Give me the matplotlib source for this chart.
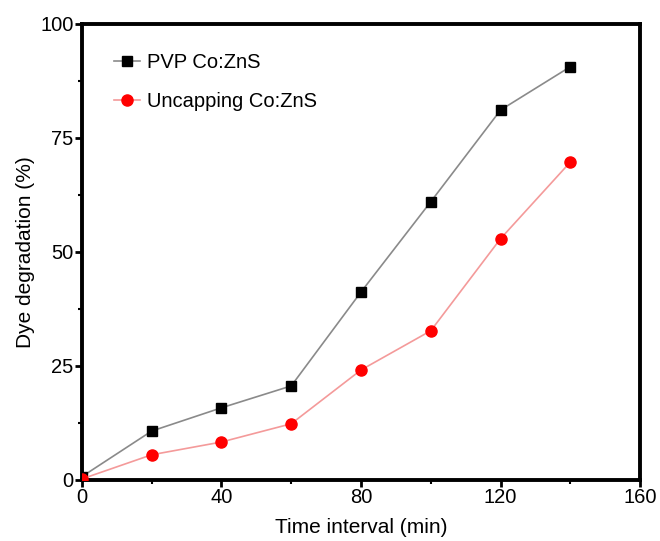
import numpy as np
import matplotlib.pyplot as plt
from matplotlib.ticker import MultipleLocator

plt.rcParams['font.family'] = ['Liberation Sans', 'DejaVu Sans']

time_min = [0, 20, 40, 60, 80, 100, 120, 140]
pvp = [0.7, 10.7, 15.8, 20.6, 41.2, 61.0, 81.1, 90.6]
uncapped = [0.2, 5.5, 8.3, 12.3, 24.1, 32.7, 52.9, 69.7]

fig = plt.figure(figsize=(6.6, 5.41), dpi=100)
ax = fig.add_axes([0.124, 0.113, 0.846, 0.843])

ax.plot(time_min, pvp, color="#8a8a8a", lw=1.2, marker="s", ms=7,
        mfc="black", mec="black", label="PVP Co:ZnS", zorder=3)
ax.plot(time_min, uncapped, color="#f49a9a", lw=1.2, marker="o", ms=8,
        mfc="#ff0000", mec="#ff0000", label="Uncapping Co:ZnS", zorder=3)

ax.set_xlim(0, 160)
ax.set_ylim(0, 100)
ax.xaxis.set_major_locator(MultipleLocator(40))
ax.xaxis.set_minor_locator(MultipleLocator(20))
ax.yaxis.set_major_locator(MultipleLocator(25))
ax.yaxis.set_minor_locator(MultipleLocator(12.5))

for s in ax.spines.values():
    s.set_linewidth(2.8)
ax.tick_params(which="major", direction="out", length=5, width=2, labelsize=14.5, pad=1)
ax.tick_params(which="minor", direction="out", length=3, width=1.5)

ax.set_xlabel("Time interval (min)", fontsize=15, labelpad=8)
ax.set_ylabel("Dye degradation (%)", fontsize=15, labelpad=4)

ax.legend(loc="upper left", frameon=False, fontsize=14.5, handlelength=1.3,
          handletextpad=0.35, labelspacing=1.0, bbox_to_anchor=(0.025, 0.975))

fig.savefig("out.png", dpi=100)
